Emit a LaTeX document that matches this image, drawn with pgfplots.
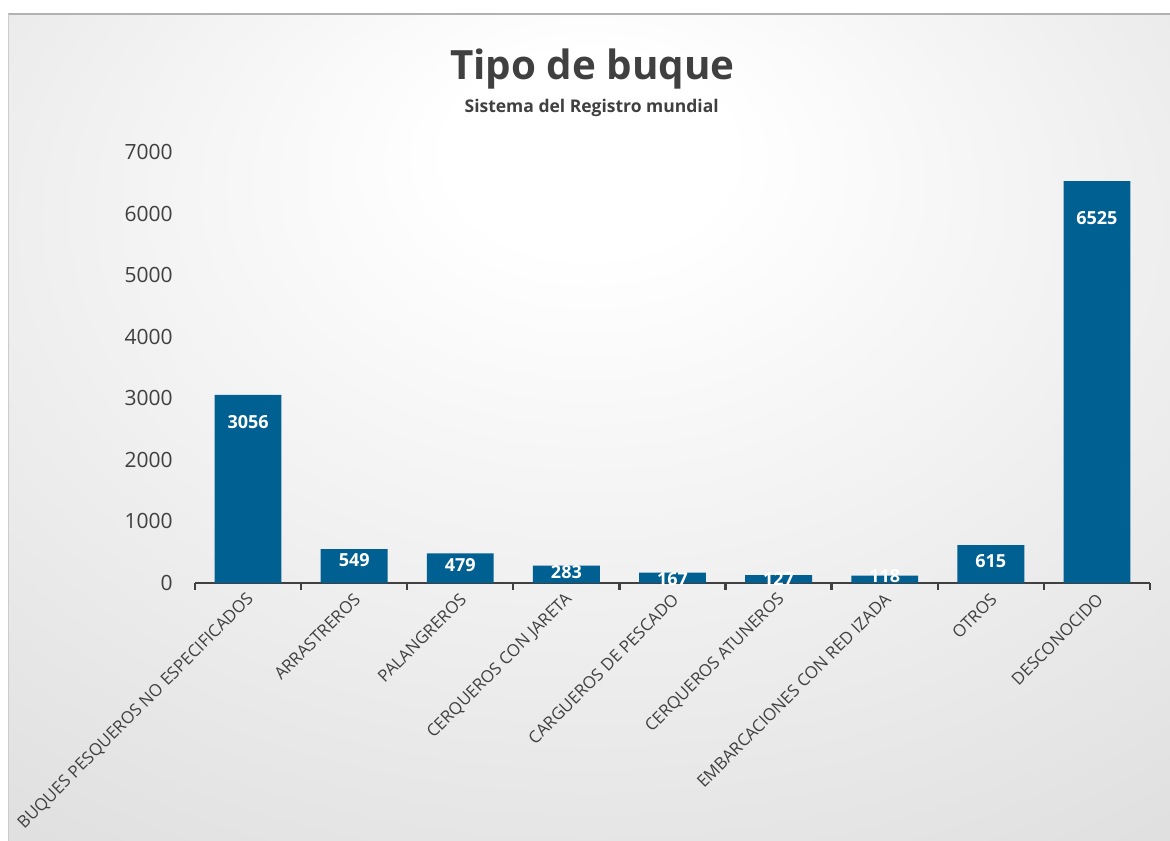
\documentclass[border=0pt]{standalone}
\usepackage{pgfplots}
\pgfplotsset{compat=1.18}
\usepackage{fontspec}
\setmainfont{Open Sans}
\definecolor{barblue}{RGB}{0,96,146}
\definecolor{txt}{RGB}{64,64,64}
\definecolor{axisc}{RGB}{64,64,64}
\pgfdeclareradialshading{bgshade}{\pgfpoint{0bp}{18bp}}{color(0bp)=(white); color(6bp)=(white); color(78bp)=(black!25)}

\pgfplotstableread{
x y off
0 3056 27
1 549 11
2 479 12
3 283 7
4 167 6
5 127 4
6 118 0
7 615 16
8 6525 37
}\datatable

\begin{document}
\begin{tikzpicture}
\fill[white] (0,0) rectangle (702pt,504.6pt);
\shade[shading=bgshade] (4.8pt,0) rectangle (702pt,496.2pt);
\draw[black!30, line width=1pt] (4.8pt,496.2pt) -- (702pt,496.2pt);
\draw[black!20, line width=0.6pt] (4.8pt,0) -- (4.8pt,496.2pt);
\node[font=\fontsize{24.2}{27}\selectfont\bfseries, text=txt, anchor=base] at (355.5pt,457pt) {Tipo de buque};
\node[font=\fontsize{10.5}{12}\selectfont\bfseries, text=txt, anchor=base] at (355pt,437pt) {Sistema del Registro mundial};
\begin{axis}[
  at={(117pt,154.8pt)}, anchor=south west,
  scale only axis, width=573pt, height=258.6pt,
  xmin=-0.5, xmax=8.5, ymin=0, ymax=7000,
  axis x line*=bottom, axis y line*=left,
  x axis line style={draw=axisc, line width=1.6pt, -},
  y axis line style={draw=none},
  ytick={0,1000,...,7000},
  ytick style={draw=none},
  xtick={0,...,8},
  major x tick style={draw=none},
  minor xtick={-0.5,0.5,...,8.5},
  minor x tick style={draw=axisc, line width=1.4pt},
  minor tick length=4pt,
  tick align=outside,
  xticklabels={BUQUES PESQUEROS NO ESPECIFICADOS, ARRASTREROS, PALANGREROS, CERQUEROS CON JARETA, CARGUEROS DE PESCADO, CERQUEROS ATUNEROS, EMBARCACIONES CON RED IZADA, OTROS, DESCONOCIDO},
  xticklabel style={rotate=45, anchor=east, font=\fontsize{10.1}{12}\selectfont, text=txt, yshift=-4pt, xshift=2pt},
  yticklabel style={font=\fontsize{12.6}{15}\selectfont, text=txt, xshift=-5.6pt},
  /pgf/number format/assume math mode=true,
  /pgf/number format/1000 sep={},
  clip=false,
]
\addplot[ybar, bar width=0.63, fill=barblue, draw=none,
  visualization depends on={\thisrow{off} \as \myoff},
  nodes near coords,
  nodes near coords style={anchor=center, text=white, font=\fontsize{10.8}{12}\selectfont\bfseries, yshift=-\myoff*0.6pt},
] table[x=x, y=y] {\datatable};
\end{axis}
\pgfresetboundingbox
\useasboundingbox (0,0) rectangle (702pt,504.6pt);
\end{tikzpicture}
\end{document}
